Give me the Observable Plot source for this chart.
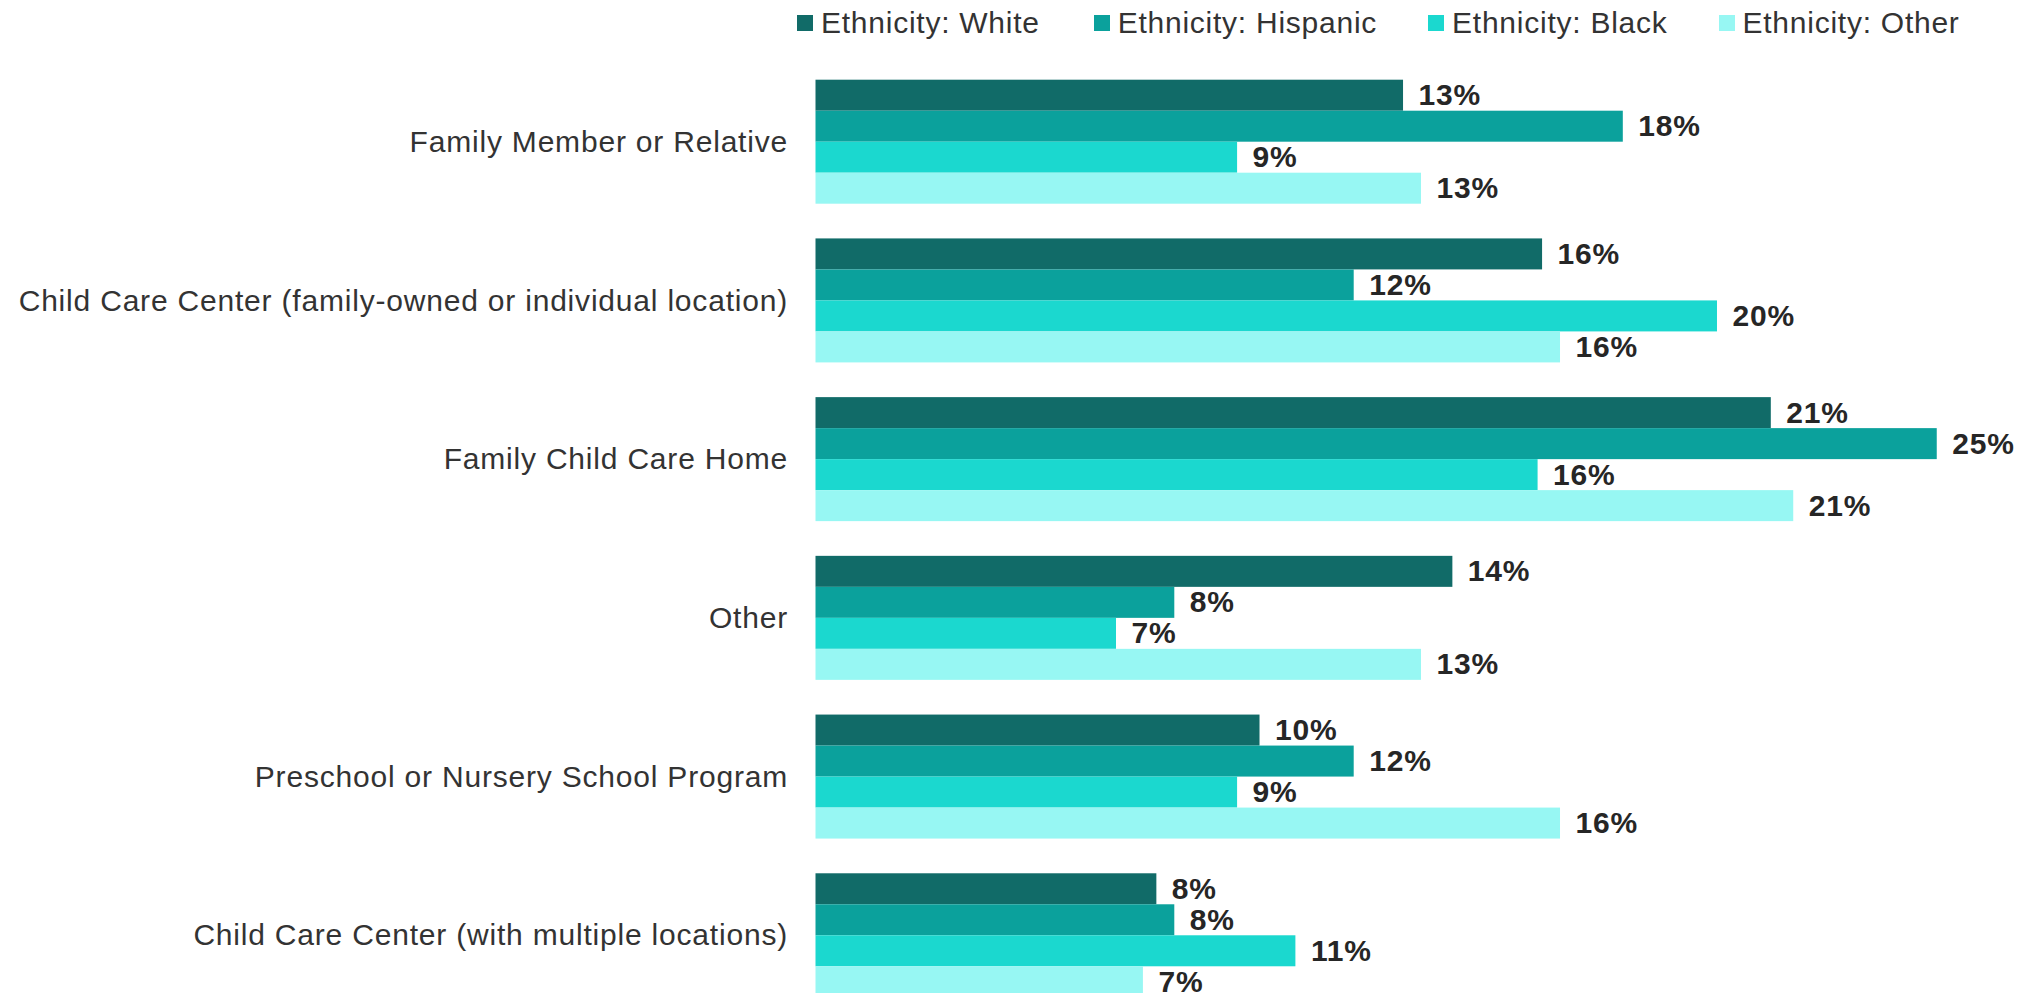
<!DOCTYPE html>
<html>
<head>
<meta charset="utf-8">
<script src="https://cdn.jsdelivr.net/npm/d3@7"></script>
<script src="https://cdn.jsdelivr.net/npm/@observablehq/plot@0.6"></script>
<style>
  html, body { margin: 0; padding: 0; background: #fff; overflow: hidden; }
  body { font-family: "Liberation Sans", Arial, sans-serif; }
  #chart > svg { display: block; }
  .legend { height: 46px; line-height: 46px; font-size: 30px; color: #333; letter-spacing: 0.75px;
            display: flex; align-items: center; padding-left: 797px; white-space: nowrap; }
  .legend .item { display: inline-flex; align-items: center; margin-right: 51px; }
  .legend .item:first-child { margin-right: 54px; }
  .legend .sw { width: 16px; height: 16px; margin-right: 8px; display: inline-block; }
  svg text { letter-spacing: 0.8px; }
</style>
</head>
<body>
<div id="chart"></div>
<script>
const categories = [
  "Family Member or Relative",
  "Child Care Center (family-owned or individual location)",
  "Family Child Care Home",
  "Other",
  "Preschool or Nursery School Program",
  "Child Care Center (with multiple locations)"
];
const series = ["Ethnicity: White", "Ethnicity: Hispanic", "Ethnicity: Black", "Ethnicity: Other"];
const colors = ["#116b68", "#0ba19c", "#1bd8cf", "#97f7f3"];

// bar lengths (percent)
const whiteValues    = [13.1, 16.2, 21.3, 14.2, 9.9, 7.6];
const hispanicValues = [18.0, 12.0, 25.0, 8.0, 12.0, 8.0];
const blackValues    = [9.4, 20.1, 16.1, 6.7, 9.4, 10.7];
const otherValues    = [13.5, 16.6, 21.8, 13.5, 16.6, 7.3];

// printed labels (percent)
const whiteLabels    = [13, 16, 21, 14, 10, 8];
const hispanicLabels = [18, 12, 25, 8, 12, 8];
const blackLabels    = [9, 20, 16, 7, 9, 11];
const otherLabels    = [13, 16, 21, 13, 16, 7];

const valueSets = [whiteValues, hispanicValues, blackValues, otherValues];
const labelSets = [whiteLabels, hispanicLabels, blackLabels, otherLabels];

const data = [];
categories.forEach((c, ci) => {
  series.forEach((s, si) => {
    data.push({category: c, series: s, value: valueSets[si][ci], label: labelSets[si][ci] + "%"});
  });
});

// legend (HTML, above the SVG)
const legend = d3.create("div").attr("class", "legend");
series.forEach((s, i) => {
  const it = legend.append("span").attr("class", "item");
  it.append("span").attr("class", "sw").style("background", colors[i]);
  it.append("span").text(s);
});

const plot = Plot.plot({
  width: 2028,
  height: 985,
  marginTop: 0,
  marginBottom: 0,
  marginLeft: 815.5,
  marginRight: 91.25,
  style: {fontFamily: "'Liberation Sans', Arial, sans-serif", color: "#333", background: "#fff"},
  x: {domain: [0, 25], axis: null},
  y: {domain: series, padding: 0, axis: null},
  fy: {domain: categories, paddingInner: 0.206, paddingOuter: 0.206, round: false, axis: null},
  color: {domain: series, range: colors},
  marks: [
    Plot.barX(data, {x: "value", y: "series", fy: "category", fill: "series"}),
    Plot.text(data, {x: "value", y: "series", fy: "category", text: "label",
      textAnchor: "start", dx: 15, fontSize: 30, fontWeight: "bold", fill: "#262626"}),
    Plot.axisFy({anchor: "left", tickSize: 0, tickPadding: 28, fontSize: 30, label: null, fill: "#333"})
  ]
});

const root = document.getElementById("chart");
root.appendChild(legend.node());
root.appendChild(plot);
</script>
</body>
</html>
